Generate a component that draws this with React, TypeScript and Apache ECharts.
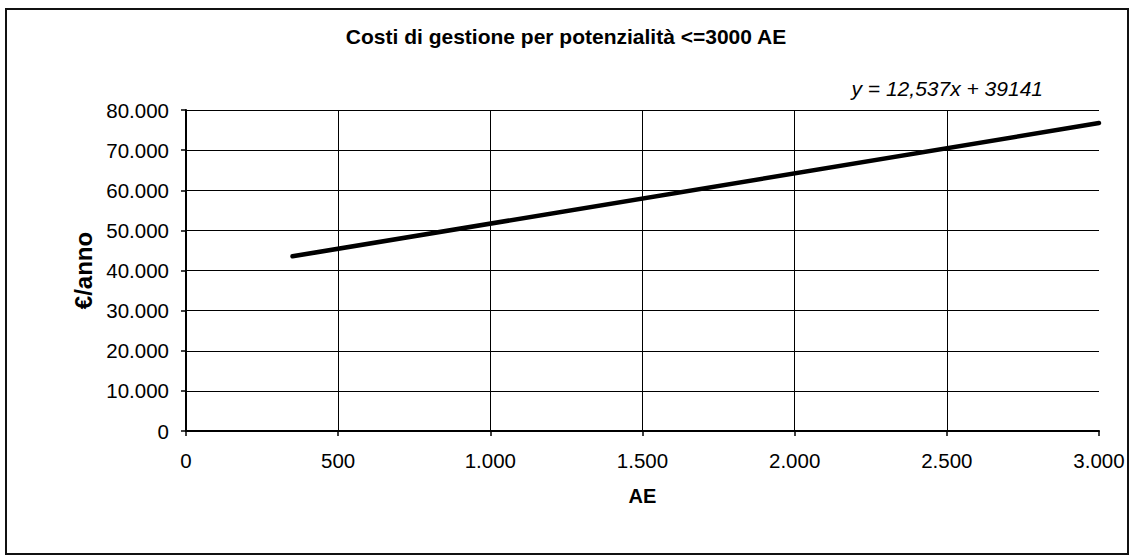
import React, { useEffect, useRef } from "react";
import * as echarts from "echarts";

const titleText = "Costi di gestione per potenzialità <=3000 AE";
const equationText = "y = 12,537x + 39141";
const xName = "AE";
const yName = "€/anno";
const lineX = [350, 3000];
const lineY = [43529, 76752];
const xMin = 0;
const xMax = 3000;
const xStep = 500;
const yMin = 0;
const yMax = 80000;
const yStep = 10000;

const FONT = "'Liberation Sans', Arial, sans-serif";

const fmt = (v: number) =>
  String(Math.round(v)).replace(/\B(?=(\d{3})+(?!\d))/g, ".");

export default function App() {
  const ref = useRef<HTMLDivElement>(null);
  useEffect(() => {
    if (!ref.current) return;
    const chart = echarts.init(ref.current, null, { renderer: "svg" });
    chart.setOption({
      animation: false,
      backgroundColor: "#fff",
      textStyle: { fontFamily: FONT, color: "#000" },
      title: {
        text: titleText,
        left: "center",
        top: 26,
        padding: 0,
        textStyle: { fontFamily: FONT, fontSize: 21, fontWeight: "bold", color: "#000" },
      },
      grid: { left: 186, right: 33, top: 110, bottom: 125, containLabel: false },
      xAxis: {
        type: "value",
        min: xMin,
        max: xMax,
        interval: xStep,
        name: xName,
        nameLocation: "middle",
        nameGap: 55,
        nameTextStyle: { fontFamily: FONT, fontSize: 20, fontWeight: "bold", color: "#000" },
        axisLine: { show: true, onZero: false, lineStyle: { color: "#000", width: 2 } },
        axisTick: { show: true, length: 5, lineStyle: { color: "#000", width: 1.5 } },
        axisLabel: { margin: 19, fontSize: 20.5, color: "#000", fontFamily: FONT, formatter: fmt },
        splitLine: { show: true, showMinLine: false, showMaxLine: false, lineStyle: { color: "#000", width: 1 } },
      },
      yAxis: {
        type: "value",
        min: yMin,
        max: yMax,
        interval: yStep,
        name: yName,
        nameLocation: "middle",
        nameGap: 84,
        nameRotate: 90,
        nameTextStyle: { fontFamily: FONT, fontSize: 24, fontWeight: "bold", color: "#000" },
        axisLine: { show: true, onZero: false, lineStyle: { color: "#000", width: 2 } },
        axisTick: { show: true, length: 5, lineStyle: { color: "#000", width: 1.5 } },
        axisLabel: { margin: 17, fontSize: 20.5, color: "#000", fontFamily: FONT, formatter: fmt },
        splitLine: { show: true, showMinLine: false, lineStyle: { color: "#000", width: 1 } },
      },
      series: [
        {
          type: "line",
          data: lineX.map((x, i) => [x, lineY[i]]),
          showSymbol: false,
          symbol: "none",
          lineStyle: { color: "#000", width: 4.5, cap: "round" },
          z: 5,
        },
      ],
      graphic: [
        {
          type: "rect",
          shape: { x: 6, y: 9, width: 1122, height: 545 },
          style: { fill: "none", stroke: "#111", lineWidth: 2 },
          silent: true,
        },
        {
          type: "text",
          x: 1043,
          y: 88,
          style: {
            text: equationText,
            fontFamily: FONT,
            fontSize: 21,
            fontStyle: "italic",
            fill: "#000",
            align: "right",
            verticalAlign: "middle",
          },
        },
      ],
    });
    return () => chart.dispose();
  }, []);
  return (
    <div
      ref={ref}
      style={{ position: "fixed", left: 0, top: 0, width: 1132, height: 556 }}
    />
  );
}
